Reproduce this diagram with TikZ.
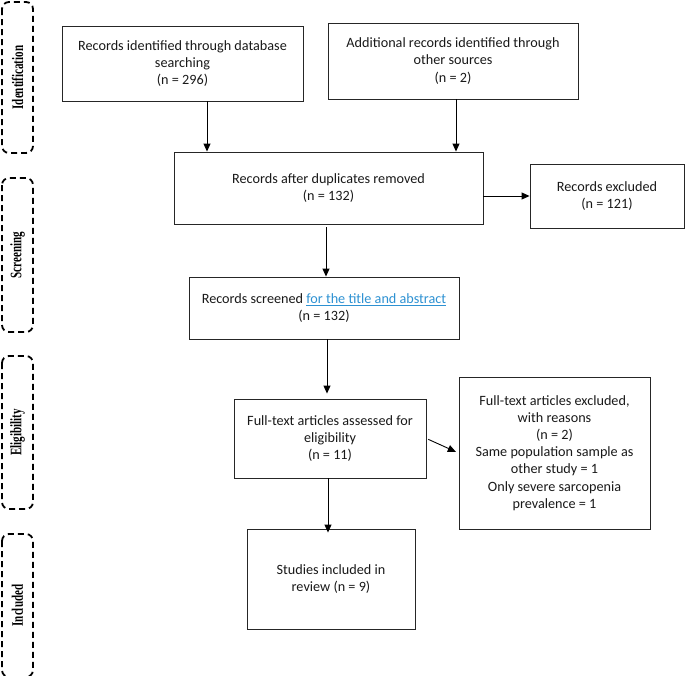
\documentclass[tikz,border=0pt]{standalone}
\usepackage{fontspec}
\setmainfont{Carlito}
\newfontfamily\lblfont{Liberation Serif}
\usetikzlibrary{arrows.meta}
\definecolor{linkblue}{RGB}{45,145,210}
\newcommand{\phasetxt}[1]{\scalebox{0.69}[1]{#1}}
\begin{document}
\begin{tikzpicture}[x=1pt,y=-1pt,
 box/.style={draw=black!85, line width=0.9pt, inner sep=0pt, align=center, font=\fontsize{14.2}{17.2}\selectfont, text=black!90},
 arr/.style={-{Triangle[length=8pt,width=7pt]}, line width=0.9pt},
 phase/.style={draw, dash pattern=on 6pt off 4pt, line width=1.8pt, rounded corners=7pt, inner sep=0pt, rotate=90, minimum height=31pt, font=\lblfont\bfseries\fontsize{16}{18}\selectfont}]
\useasboundingbox (0,0) rectangle (685,675);
\clip (0,0) rectangle (685,675);
% phase labels
\node[phase, minimum width=151pt] (p1) at (17.5,77.5) {\phasetxt{Identification}};
\node[phase, minimum width=154pt] (p2) at (17.5,255) {\phasetxt{Screening}};
\node[phase, minimum width=153pt] (p3) at (17.5,432.5) {\phasetxt{Eligibility}};
\node[phase, minimum width=143pt] (p4) at (17.5,605.5) {\phasetxt{Included}};
% boxes
\node[box, minimum width=241pt, minimum height=75pt] (b1) at (182.5,63.5) {Records identified through database\\searching\\(n = 296)};
\node[box, minimum width=250pt, minimum height=76pt] (b2) at (453,61) {Additional records identified through\\other sources\\(n = 2)};
\node[box, minimum width=309pt, minimum height=72pt] (b3) at (328.5,188) {Records after duplicates removed\\(n = 132)};
\node[box, minimum width=154pt, minimum height=64pt] (b4) at (607,196) {Records excluded\\(n = 121)};
\node[box, minimum width=270pt, minimum height=62pt] (b5) at (324,308) {Records screened \textcolor{linkblue}{\underline{for the title and abstract}}\\(n = 132)};
\node[box, minimum width=192pt, minimum height=79pt] (b6) at (330,438.5) {Full-text articles assessed for\\eligibility\\(n = 11)};
\node[box, minimum width=191pt, minimum height=152pt] (b7) at (554.5,453) {Full-text articles excluded,\\with reasons\\(n = 2)\\Same population sample as\\other study = 1\\Only severe sarcopenia\\prevalence = 1};
\node[box, minimum width=168pt, minimum height=100pt] (b8) at (331,579) {Studies included in\\review (n = 9)};
% arrows
\draw[arr] ([xshift=24.5pt]b1.south) -- ([xshift=24.5pt]b1.south |- b3.north);
\draw[arr] ([xshift=3pt]b2.south) -- ([xshift=3pt]b2.south |- b3.north);
\draw[arr] (b3.east |- b4.west) -- (b4.west);
\draw[arr, shorten <=3pt] ([xshift=-2.5pt]b3.south) -- ([xshift=-2.5pt]b3.south |- b5.north);
\draw[arr, shorten >=5pt] ([xshift=3pt]b5.south) -- ([xshift=3pt]b5.south |- b6.north);
\draw[arr, shorten <=2pt, shorten >=3pt] (b6.east) -- (b7.west);
\draw[arr, shorten >=-4pt] ([xshift=-2pt]b6.south) -- ([xshift=-2pt]b6.south |- b8.north);
\end{tikzpicture}
\end{document}
